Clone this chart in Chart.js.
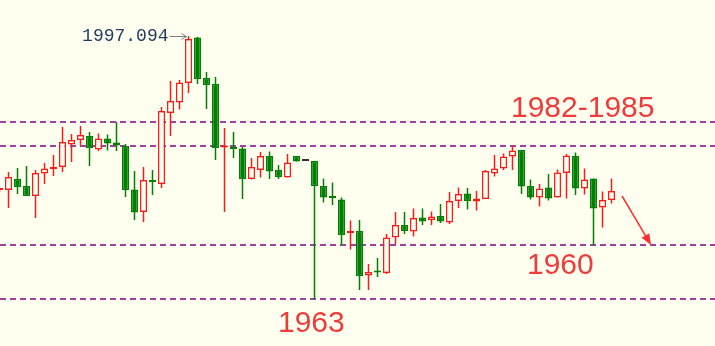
<!DOCTYPE html>
<html>
<head>
<meta charset="utf-8">
<script src="https://cdn.jsdelivr.net/npm/chart.js@4.4.1/dist/chart.umd.min.js"></script>
<style>
  html, body { margin: 0; padding: 0; background: #fffff0; }
  #wrap { position: relative; width: 715px; height: 346px; }
</style>
</head>
<body>
<div id="wrap"><canvas id="kChart"></canvas></div>
<script>
// OHLC per bar
const opens = [
    1981.7, 1981.7, 1982.8, 1982.1, 1981.1, 1983.35, 1983.8, 1984.0, 1986.25, 1986.7,
    1987.1, 1985.75, 1986.85, 1986.45, 1986.1, 1981.75, 1979.5, 1982.6, 1982.3, 1989.4,
    1990.45, 1992.4, 1996.95, 1992.9, 1992.3, 1985.95, 1985.9, 1985.85, 1982.8, 1983.7,
    1985.1, 1983.7, 1982.95, 1985.1, 1984.6, 1984.6, 1982.1, 1981.05, 1980.75, 1977.4,
    1977.6, 1973.15, 1973.55, 1973.4, 1976.95, 1978.2, 1977.55, 1978.95, 1978.7, 1979.1,
    1978.45, 1980.6, 1981.35, 1980.55, 1980.8, 1983.35, 1983.85, 1985.05, 1985.7, 1982.1,
    1980.95, 1981.95, 1980.95, 1983.4, 1985.1, 1981.85, 1982.85, 1979.95, 1980.7
];
const highs = [
    1981.9, 1983.5, 1983.9, 1984.1, 1983.7, 1984.4, 1985.2, 1988.0, 1987.3, 1988.1,
    1987.5, 1987.35, 1987.25, 1988.5, 1986.3, 1983.6, 1984.0, 1983.7, 1990.0, 1992.6,
    1992.7, 1997.094, 1997.0, 1993.5, 1993.0, 1987.9, 1987.5, 1986.0, 1984.9, 1985.5,
    1985.55, 1984.2, 1985.3, 1985.1, 1984.6, 1984.6, 1982.85, 1982.45, 1980.95, 1978.65,
    1978.7, 1974.3, 1974.9, 1977.3, 1979.5, 1979.5, 1979.85, 1979.85, 1979.55, 1980.3,
    1981.5, 1981.95, 1981.9, 1981.6, 1983.7, 1985.2, 1985.35, 1986.1, 1985.7, 1982.75,
    1982.3, 1983.3, 1983.75, 1985.3, 1985.45, 1983.85, 1982.85, 1981.55, 1982.85
];
const lows = [
    1981.5, 1979.9, 1981.3, 1981.1, 1978.9, 1982.3, 1983.1, 1983.5, 1984.5, 1986.1,
    1984.1, 1985.6, 1985.65, 1985.6, 1981.0, 1978.7, 1978.5, 1981.2, 1981.9, 1987.1,
    1989.75, 1991.4, 1992.3, 1989.8, 1984.7, 1979.5, 1984.9, 1980.8, 1982.75, 1982.95,
    1982.8, 1982.8, 1982.95, 1984.55, 1984.6, 1970.8, 1980.45, 1980.2, 1976.2, 1975.75,
    1971.7, 1971.7, 1973.0, 1973.3, 1976.3, 1977.3, 1977.05, 1978.2, 1978.2, 1978.4,
    1978.3, 1979.9, 1979.75, 1979.65, 1980.8, 1983.05, 1983.7, 1983.7, 1981.3, 1980.75,
    1980.05, 1980.65, 1980.95, 1980.85, 1981.2, 1981.25, 1976.2, 1977.95, 1980.35
];
const closes = [
    1981.8, 1983.0, 1982.0, 1981.1, 1983.4, 1983.85, 1984.0, 1986.5, 1986.7, 1987.2,
    1985.9, 1986.85, 1986.35, 1986.15, 1981.7, 1979.45, 1982.7, 1982.5, 1989.6, 1990.6,
    1992.45, 1996.8, 1992.8, 1992.2, 1985.9, 1986.0, 1985.8, 1982.8, 1984.0, 1985.1,
    1983.55, 1983.0, 1984.45, 1984.55, 1984.6, 1982.1, 1980.95, 1980.9, 1977.2, 1977.6,
    1973.1, 1973.5, 1973.45, 1976.95, 1978.2, 1977.6, 1978.9, 1978.55, 1979.05, 1978.55,
    1980.6, 1981.3, 1980.6, 1980.85, 1983.6, 1983.85, 1985.05, 1985.65, 1982.05, 1980.95,
    1981.85, 1980.85, 1983.45, 1985.15, 1981.85, 1982.75, 1979.85, 1980.7, 1981.6
];
const bars = opens.map((_, i) => i);

// horizontal support / resistance lines and their notes
const levels = [1988.5, 1986.1, 1976.2, 1970.8];
const noteTexts = ['1982-1985', '1963', '1960'];
const peakText = '1997.094';

const BG = '#fffff0';
const UP = '#ff1a1a';
const DOWN = '#008000';
const FLAT = '#333333';

function lineColor(i) {
    if (closes[i] > opens[i]) return UP;
    if (closes[i] < opens[i]) return DOWN;
    return FLAT;
}
function fillColor(i) {
    if (closes[i] > opens[i]) return BG;
    return lineColor(i);
}

const bgPlugin = {
    id: 'bg',
    beforeDraw(chart) {
        const ctx = chart.ctx;
        ctx.save();
        ctx.fillStyle = BG;
        ctx.fillRect(0, 0, chart.width, chart.height);
        ctx.restore();
    }
};

const levelPlugin = {
    id: 'levels',
    beforeDatasetsDraw(chart) {
        const ctx = chart.ctx;
        const y = chart.scales.y;
        ctx.save();
        ctx.strokeStyle = '#a040a0';
        ctx.lineWidth = 2;
        ctx.setLineDash([6, 4]);
        levels.forEach(v => {
            const py = Math.round(y.getPixelForValue(v));
            ctx.beginPath();
            ctx.moveTo(0, py);
            ctx.lineTo(chart.width, py);
            ctx.stroke();
        });
        ctx.restore();
    }
};

const notePlugin = {
    id: 'notes',
    afterDatasetsDraw(chart) {
        const ctx = chart.ctx;
        const x = chart.scales.x;
        const y = chart.scales.y;
        ctx.save();

        // red notes
        ctx.fillStyle = '#ee3b3b';
        ctx.font = '30px "Liberation Sans", Arial, sans-serif';
        ctx.textBaseline = 'alphabetic';
        ctx.textAlign = 'left';
        ctx.fillText(noteTexts[0], x.getPixelForValue(56.83), y.getPixelForValue(1989.0));
        ctx.fillText(noteTexts[1], x.getPixelForValue(30.94), y.getPixelForValue(1967.5));
        ctx.fillText(noteTexts[2], x.getPixelForValue(58.61), y.getPixelForValue(1973.3));

        // peak price with grey arrow
        const peakI = highs.indexOf(Math.max(...highs));
        const tipX = x.getPixelForValue(peakI) - 2;
        const tipY = Math.round(y.getPixelForValue(highs[peakI])) + 0.5;
        ctx.strokeStyle = '#808080';
        ctx.lineWidth = 1;
        ctx.beginPath();
        ctx.moveTo(tipX - 17, tipY);
        ctx.lineTo(tipX, tipY);
        ctx.moveTo(tipX - 5, tipY - 3);
        ctx.lineTo(tipX, tipY);
        ctx.lineTo(tipX - 5, tipY + 3);
        ctx.stroke();
        ctx.fillStyle = '#1f3a5c';
        ctx.font = '18px "Liberation Mono", monospace';
        ctx.textAlign = 'right';
        ctx.textBaseline = 'middle';
        ctx.fillText(peakText, tipX - 18, tipY);

        // red arrow pointing down to the lower line
        const x0 = x.getPixelForValue(69.17), y0 = y.getPixelForValue(1981.1);
        const x1 = x.getPixelForValue(72.39), y1 = y.getPixelForValue(levels[2]);
        const ang = Math.atan2(y1 - y0, x1 - x0);
        ctx.strokeStyle = '#ff3030';
        ctx.fillStyle = '#ff3030';
        ctx.lineWidth = 1.5;
        ctx.beginPath();
        ctx.moveTo(x0, y0);
        ctx.lineTo(x1 - 8 * Math.cos(ang), y1 - 8 * Math.sin(ang));
        ctx.stroke();
        ctx.beginPath();
        ctx.moveTo(x1, y1);
        ctx.lineTo(x1 - 11 * Math.cos(ang) + 4.5 * Math.sin(ang), y1 - 11 * Math.sin(ang) - 4.5 * Math.cos(ang));
        ctx.lineTo(x1 - 11 * Math.cos(ang) - 4.5 * Math.sin(ang), y1 - 11 * Math.sin(ang) + 4.5 * Math.cos(ang));
        ctx.closePath();
        ctx.fill();

        ctx.restore();
    }
};

const ctx = document.getElementById('kChart').getContext('2d');
window.kChart = new Chart(ctx, {
    type: 'bar',
    data: {
        datasets: [
            {
                label: 'wick',
                data: bars.map(i => ({ x: i, y: [lows[i], highs[i]] })),
                backgroundColor: bars.map(lineColor),
                borderWidth: 0,
                barThickness: 1.5,
                maxBarThickness: 1.5,
                grouped: false,
                inflateAmount: 0,
                order: 2
            },
            {
                label: 'body',
                data: bars.map(i => ({ x: i, y: [opens[i], closes[i]] })),
                backgroundColor: bars.map(fillColor),
                borderColor: bars.map(lineColor),
                borderWidth: 1.5,
                borderSkipped: false,
                barThickness: 7,
                maxBarThickness: 7,
                minBarLength: 2,
                grouped: false,
                inflateAmount: 0,
                order: 1
            }
        ]
    },
    options: {
        responsive: true,
        maintainAspectRatio: false,
        animation: false,
        devicePixelRatio: 1,
        layout: { padding: 0 },
        scales: {
            x: { type: 'linear', min: 0.0556, max: 79.5, offset: false, display: false },
            y: { min: 1966.1, max: 2000.7, display: false }
        },
        plugins: {
            legend: { display: false },
            tooltip: { enabled: false }
        }
    },
    plugins: [bgPlugin, levelPlugin, notePlugin]
});
</script>
</body>
</html>
